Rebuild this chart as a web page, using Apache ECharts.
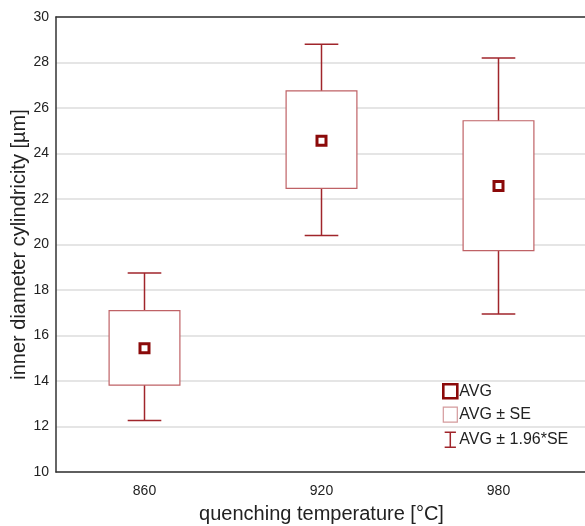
<!DOCTYPE html>
<html><head><meta charset="utf-8">
<script src="https://cdn.jsdelivr.net/npm/echarts@6/dist/echarts.min.js"></script>
<style>html,body{margin:0;padding:0;background:#fff}#c{width:585px;height:526px}</style>
</head><body><div id="c"></div>
<script>
const categories = ['860', '920', '980'];
const avg = [15.44, 24.56, 22.57];
const seLow = [13.82, 22.47, 19.73];
const seHigh = [17.09, 26.75, 25.44];
const ciLow = [12.26, 20.40, 16.95];
const ciHigh = [18.75, 28.80, 28.20];

const whiskerColor = '#a0252b';
const boxColor = '#bf6266';
const avgColor = '#8b0a0a';
const font = 'Liberation Sans, Arial, sans-serif';

const chart = echarts.init(document.getElementById('c'), null, {renderer: 'canvas'});
chart.setOption({
  animation: false,
  backgroundColor: '#fff',
  grid: {left: 56, top: 17, right: -2, bottom: 54, containLabel: false, outerBoundsMode: 'none'},
  legend: {
    orient: 'vertical', left: 437, top: 378, itemGap: 7, itemWidth: 14, itemHeight: 15,
    textStyle: {fontFamily: font, fontSize: 16, color: '#222', padding: [0, 0, 0, -3]},
    data: [
      {name: 'AVG', icon: 'path://M0,0 L11,0 L11,11 L0,11 Z', itemStyle: {color: '#fff', borderColor: avgColor, borderWidth: 2.6}},
      {name: 'AVG ± SE', icon: 'rect', itemStyle: {color: '#fff', borderColor: '#d49a9c', borderWidth: 1.2}},
      {name: 'AVG ± 1.96*SE', icon: 'path://M0,0 L12,0 M6,0 L6,16 M0,16 L12,16', itemStyle: {color: 'none', borderColor: whiskerColor, borderWidth: 1.5}}
    ]
  },
  xAxis: [{
    type: 'category', data: categories, position: 'bottom',
    axisLine: {lineStyle: {color: '#333', width: 1.5}},
    axisTick: {inside: true, alignWithLabel: true, length: 4, lineStyle: {color: '#333'}},
    axisLabel: {fontFamily: font, fontSize: 14, color: '#222', margin: 12},
    name: 'quenching temperature [°C]', nameLocation: 'middle', nameGap: 32, nameMoveOverlap: false,
    nameTextStyle: {fontFamily: font, fontSize: 20, color: '#222'}
  }, {
    type: 'category', data: categories, position: 'top',
    axisLine: {lineStyle: {color: '#333', width: 1.5}},
    axisTick: {inside: true, alignWithLabel: true, length: 4, lineStyle: {color: '#333'}},
    axisLabel: {show: false}
  }],
  yAxis: {
    type: 'value', min: 10, max: 30, interval: 2,
    axisLine: {show: true, lineStyle: {color: '#333', width: 1.5}},
    axisTick: {show: false},
    axisLabel: {fontFamily: font, fontSize: 14, color: '#222', margin: 7},
    splitLine: {lineStyle: {color: '#dcdcdc', width: 1.5}},
    name: 'inner diameter cylindricity [µm]', nameLocation: 'middle', nameGap: 27, nameMoveOverlap: false,
    nameTextStyle: {fontFamily: font, fontSize: 20, color: '#222'}
  },
  series: [
    {
      name: 'AVG ± 1.96*SE', type: 'custom', z: 2,
      data: categories.map((c, i) => [i, ciLow[i], ciHigh[i]]),
      renderItem: function (params, api) {
        const i = api.value(0);
        const lo = api.coord([i, api.value(1)]);
        const hi = api.coord([i, api.value(2)]);
        const cap = api.size([1, 0])[0] * 0.19 / 2;
        const st = {stroke: whiskerColor, lineWidth: 1.5, fill: null};
        return {type: 'group', children: [
          {type: 'line', shape: {x1: lo[0], y1: lo[1], x2: hi[0], y2: hi[1]}, style: st},
          {type: 'line', shape: {x1: lo[0] - cap, y1: lo[1], x2: lo[0] + cap, y2: lo[1]}, style: st},
          {type: 'line', shape: {x1: hi[0] - cap, y1: hi[1], x2: hi[0] + cap, y2: hi[1]}, style: st}
        ]};
      }
    },
    {
      name: 'AVG ± SE', type: 'custom', z: 3,
      data: categories.map((c, i) => [i, seLow[i], seHigh[i]]),
      renderItem: function (params, api) {
        const i = api.value(0);
        const lo = api.coord([i, api.value(1)]);
        const hi = api.coord([i, api.value(2)]);
        const w = api.size([1, 0])[0] * 0.40;
        return {type: 'rect', shape: {x: lo[0] - w / 2, y: hi[1], width: w, height: lo[1] - hi[1]},
          style: {fill: '#fff', stroke: boxColor, lineWidth: 1.2}};
      }
    },
    {
      name: 'AVG', type: 'scatter', z: 4,
      data: avg.map((v, i) => [i, v]),
      symbol: 'rect', symbolSize: 9,
      itemStyle: {color: '#fff', borderColor: avgColor, borderWidth: 3, opacity: 1}
    }
  ]
});
</script></body></html>
